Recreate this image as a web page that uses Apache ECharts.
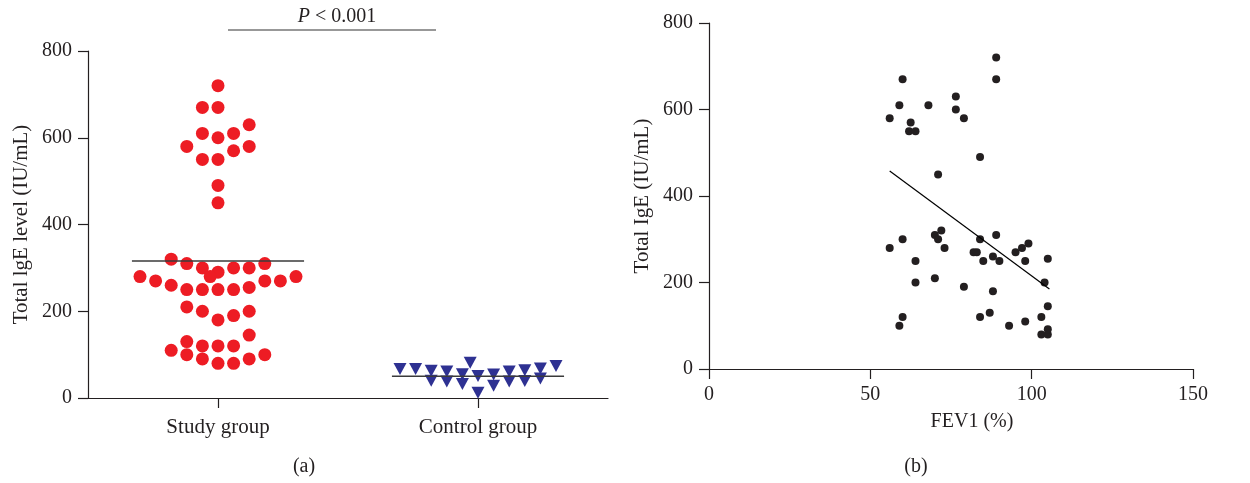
<!DOCTYPE html>
<html>
<head>
<meta charset="utf-8">
<script src="https://cdn.jsdelivr.net/npm/echarts@6/dist/echarts.min.js"></script>
<style>
html,body{margin:0;padding:0;background:#fff;}
#chart{width:1250px;height:483px;}
</style>
</head>
<body>
<div id="chart"></div>
<script>
// ---------- Panel (a) data ----------
var groups = ['Study group', 'Control group'];
// horizontal jitter (in category widths) and values for the study group
var studyOffset = [0, -0.06, 0, 0.12, -0.06, 0.06, 0, -0.12, 0.12, 0.06, -0.06, 0, 0, 0,
  -0.18, -0.12, 0.18, -0.06, 0.06, 0.12, 0, -0.03, -0.3, 0.3, -0.24, 0.18, 0.24, -0.18,
  -0.12, -0.06, 0, 0.06, 0.12, -0.12, -0.06, 0.12, 0, 0.06,
  0.12, -0.12, -0.18, -0.06, 0, 0.06, -0.12, 0.18, -0.06, 0.12, 0, 0.06];
var studyValues = [720, 670, 670, 630, 610, 610, 600, 580, 580, 570, 550, 550, 490, 450,
  320, 310, 310, 300, 300, 300, 290, 280, 280, 280, 270, 270, 270, 260,
  250, 250, 250, 250, 255, 210, 200, 200, 180, 190,
  145, 130, 110, 120, 120, 120, 100, 100, 90, 90, 80, 80];
var controlOffset = [-0.3, -0.24, -0.18, -0.18, -0.12, -0.12, -0.06, -0.06, -0.03, 0, 0,
  0.06, 0.06, 0.12, 0.12, 0.18, 0.18, 0.24, 0.24, 0.3];
var controlValues = [67, 67, 63, 40, 61, 38, 55, 32, 81, 51, 12,
  54, 28, 61, 38, 64, 39, 68, 45, 74];
var groupMeans = [316, 50];
var yTicksA = [0, 200, 400, 600, 800];

// ---------- Panel (b) data ----------
var fev1 = [89, 89, 60, 76.5, 59, 68, 76.5, 56, 79, 62.5, 62, 64, 84, 71,
  56, 60, 64, 64, 70, 71, 72, 73, 70, 79, 82, 83, 84, 89, 85, 88, 90, 88, 95, 97, 99, 98, 105, 104,
  84, 87, 60, 59, 93, 98, 103, 105, 103, 105, 105];
var totalIgE = [720, 670, 670, 630, 610, 610, 600, 580, 580, 570, 550, 550, 490, 450,
  280, 300, 250, 200, 310, 300, 320, 280, 210, 190, 270, 270, 300, 310, 250, 260, 250, 180, 270, 280, 290, 250, 255, 200,
  120, 130, 120, 100, 100, 110, 120, 145, 80, 80, 92];
var fitX = [56, 105.5];
var fitY = [458, 185];
var xTicksB = [0, 50, 100, 150];

var FONT = 'Liberation Serif';
var INK = '#231f20';

function pairs(xs, ys, base) {
  return xs.map(function (x, i) { return [base + x, ys[i]]; });
}

var chart = echarts.init(document.getElementById('chart'), null, {renderer: 'canvas'});

var axisLineStyle = {color: INK, width: 1.2};
var commonY = {
  type: 'value', min: 0, max: 800, interval: 200,
  axisLine: {show: true, onZero: false, lineStyle: axisLineStyle},
  axisTick: {show: true, length: 10, lineStyle: axisLineStyle},
  splitLine: {show: false},
  axisLabel: {color: INK, fontFamily: FONT, fontSize: 20, margin: 16,
    formatter: function (v) { return yTicksA.indexOf(v) >= 0 ? String(v) : ''; }},
  nameLocation: 'middle',
  nameTextStyle: {color: INK, fontFamily: FONT, fontSize: 21}
};

var option = {
  animation: false,
  backgroundColor: '#ffffff',
  grid: [
    {left: 88, top: 51, width: 520, height: 347},
    {left: 709, top: 23, width: 484, height: 346}
  ],
  xAxis: [
    {
      gridIndex: 0, type: 'category', data: groups, boundaryGap: true,
      axisLine: {show: true, onZero: false, lineStyle: axisLineStyle},
      axisTick: {show: true, alignWithLabel: true, length: 10, lineStyle: axisLineStyle},
      axisLabel: {color: INK, fontFamily: FONT, fontSize: 21, margin: 19}
    },
    {
      gridIndex: 0, type: 'value', min: -0.5, max: 1.5, show: false
    },
    {
      gridIndex: 1, type: 'value', min: 0, max: 150, interval: 50,
      axisLine: {show: true, onZero: false, lineStyle: axisLineStyle},
      axisTick: {show: true, length: 10, lineStyle: axisLineStyle},
      splitLine: {show: false},
      axisLabel: {color: INK, fontFamily: FONT, fontSize: 20, margin: 16,
        formatter: function (v) { return xTicksB.indexOf(v) >= 0 ? String(v) : ''; }}
    }
  ],
  yAxis: [
    Object.assign({}, commonY, {gridIndex: 0, name: 'Total lgE level (IU/mL)', nameGap: 56}),
    Object.assign({}, commonY, {gridIndex: 1, name: 'Total IgE (IU/mL)', nameGap: 56})
  ],
  series: [
    {
      type: 'scatter', xAxisIndex: 1, yAxisIndex: 0,
      symbol: 'circle', symbolSize: 13,
      itemStyle: {color: '#ed1c24', opacity: 1},
      data: pairs(studyOffset, studyValues, 0), z: 3
    },
    {
      type: 'scatter', xAxisIndex: 1, yAxisIndex: 0,
      symbol: 'triangle', symbolRotate: 180, symbolSize: [13, 12],
      itemStyle: {color: '#2e3192', opacity: 1},
      data: pairs(controlOffset, controlValues, 1), z: 3
    },
    {
      type: 'line', xAxisIndex: 1, yAxisIndex: 0, symbol: 'none',
      lineStyle: {color: '#3a3a3a', width: 1.5},
      data: [[-0.331, groupMeans[0]], [0.331, groupMeans[0]]], z: 4
    },
    {
      type: 'line', xAxisIndex: 1, yAxisIndex: 0, symbol: 'none',
      lineStyle: {color: '#3a3a3a', width: 1.5},
      data: [[1 - 0.331, groupMeans[1]], [1 + 0.331, groupMeans[1]]], z: 4
    },
    {
      type: 'scatter', xAxisIndex: 2, yAxisIndex: 1,
      symbol: 'circle', symbolSize: 8,
      itemStyle: {color: '#231f20', opacity: 1},
      data: pairs(fev1, totalIgE, 0)
    },
    {
      type: 'line', xAxisIndex: 2, yAxisIndex: 1, symbol: 'none',
      lineStyle: {color: '#000', width: 1.2},
      data: pairs(fitX, fitY, 0)
    }
  ],
  graphic: [
    {type: 'line', shape: {x1: 228, y1: 30, x2: 436, y2: 30}, style: {stroke: '#333', lineWidth: 1.2}},
    {type: 'text', x: 337, y: 17, style: {
      text: '{i|P} < 0.001', fill: INK, font: '20px "Liberation Serif"', align: 'center', verticalAlign: 'middle',
      rich: {i: {fontStyle: 'italic', fontFamily: FONT, fontSize: 20, fill: INK}}
    }},
    {type: 'text', x: 304, y: 467, style: {text: '(a)', fill: INK, font: '20px "Liberation Serif"', align: 'center', verticalAlign: 'middle'}},
    {type: 'text', x: 916, y: 467, style: {text: '(b)', fill: INK, font: '20px "Liberation Serif"', align: 'center', verticalAlign: 'middle'}},
    {type: 'text', x: 972, y: 422, style: {text: 'FEV1 (%)', fill: INK, font: '20px "Liberation Serif"', align: 'center', verticalAlign: 'middle'}}
  ]
};
chart.setOption(option);
</script>
</body>
</html>
